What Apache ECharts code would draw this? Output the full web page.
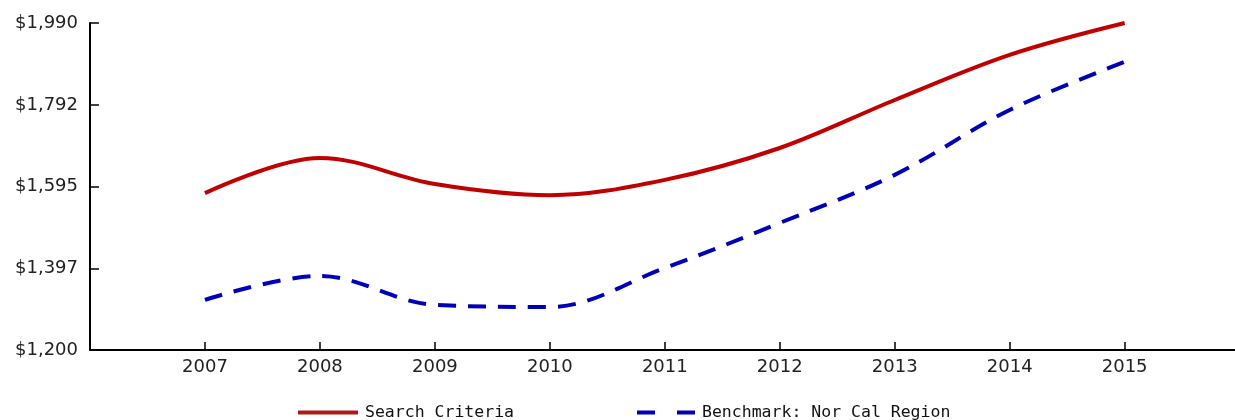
<!DOCTYPE html>
<html>
<head>
<meta charset="utf-8">
<script src="https://cdn.jsdelivr.net/npm/echarts@6/dist/echarts.min.js"></script>
<style>
html,body{margin:0;padding:0;background:#fff;}
#chart{width:1235px;height:420px;}
</style>
</head>
<body>
<div id="chart"></div>
<script>
var years = [2007, 2008, 2009, 2010, 2011, 2012, 2013, 2014, 2015];
var searchCriteria = [1579, 1664, 1601, 1574, 1611, 1688, 1804, 1913, 1990];
var benchmark = [1321, 1379, 1309, 1304, 1398, 1507, 1623, 1780, 1896];
var yTicks = [1200, 1397, 1595, 1792, 1990];

function pairs(vals) {
    return years.map(function (y, i) { return [y, vals[i]]; });
}
function money(v) {
    return '$' + v.toLocaleString('en-US');
}

var chart = echarts.init(document.getElementById('chart'));
var legendText = {
    fontFamily: 'DejaVu Sans Mono',
    fontSize: 16.5,
    color: '#111',
    padding: [0, 0, 0, 2]
};
var axisFont = {
    color: '#222',
    fontFamily: 'DejaVu Sans',
    fontSize: 18
};
chart.setOption({
    animation: false,
    grid: { left: 90, right: 0, top: 23, bottom: 70 },
    legend: [
        {
            data: [{ name: 'Search Criteria', icon: 'rect' }],
            left: 293, top: 399,
            itemWidth: 60, itemHeight: 4,
            textStyle: legendText
        },
        {
            data: [{ name: 'Benchmark: Nor Cal Region', icon: 'path://M0,0h18v4h-18z M40,0h18v4h-18z' }],
            left: 632, top: 399,
            itemWidth: 58, itemHeight: 4,
            textStyle: legendText
        }
    ],
    xAxis: {
        type: 'value',
        min: 2006,
        max: 2015.96,
        splitLine: { show: false },
        axisLine: { lineStyle: { color: '#000', width: 2 } },
        axisTick: { inside: true, length: 8, customValues: years, lineStyle: { color: '#000', width: 1.5 } },
        axisLabel: Object.assign({
            customValues: years,
            formatter: function (v) { return String(v); },
            margin: 8
        }, axisFont)
    },
    yAxis: {
        type: 'value',
        min: 1200,
        max: 1990,
        splitLine: { show: false },
        axisLine: { show: true, lineStyle: { color: '#000', width: 2 } },
        axisTick: { show: true, inside: true, length: 9, customValues: yTicks, lineStyle: { color: '#000', width: 1.5 } },
        axisLabel: Object.assign({
            customValues: yTicks,
            formatter: money,
            margin: 12
        }, axisFont)
    },
    series: [
        {
            name: 'Search Criteria',
            type: 'line',
            smooth: 0.35,
            symbol: 'none',
            data: pairs(searchCriteria),
            lineStyle: { color: '#c00000', width: 4 },
            itemStyle: { color: '#b01818' }
        },
        {
            name: 'Benchmark: Nor Cal Region',
            type: 'line',
            smooth: 0.35,
            symbol: 'none',
            data: pairs(benchmark),
            lineStyle: { color: '#0000b8', width: 4, type: [18, 12] },
            itemStyle: { color: '#0000b8' }
        }
    ]
});
</script>
</body>
</html>
